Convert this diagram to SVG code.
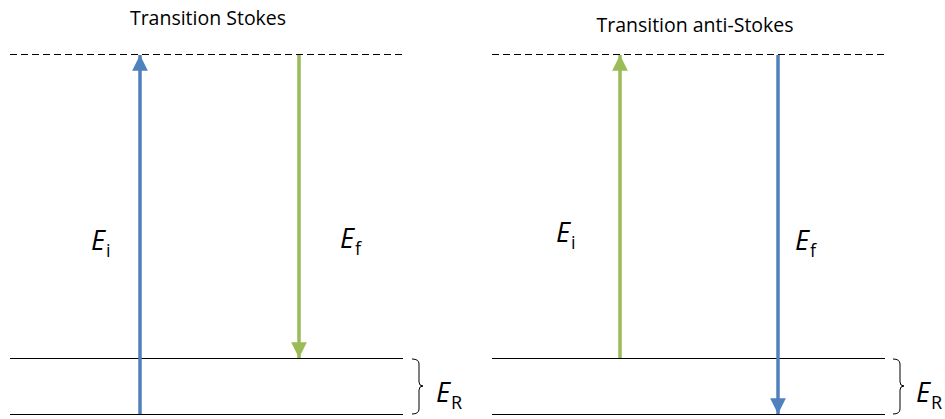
<svg xmlns="http://www.w3.org/2000/svg" width="945" height="419" viewBox="0 0 945 419">
<defs>
<style>
.lvl{stroke:#000;stroke-width:1;fill:none}
.dash{stroke:#000;stroke-width:1;stroke-dasharray:7,4;fill:none}
.blue{stroke:#4F81BD;stroke-width:3.5;fill:none}
.green{stroke:#9BBB59;stroke-width:3.5;fill:none}
.title{font-family:"Open Sans","Liberation Sans",sans-serif;font-size:19.5px;fill:#000}
.lab{font-family:"Open Sans","Liberation Sans",sans-serif;font-size:27px;font-style:italic;fill:#000}
.sub{font-family:"Open Sans","Liberation Sans",sans-serif;font-size:18px;font-style:normal}
.brace{stroke:#000;stroke-width:1;fill:none}
</style>
<marker id="ab" viewBox="0 0 10 10" refX="10" refY="5" markerWidth="4.5" markerHeight="4.5" markerUnits="strokeWidth" orient="auto"><path d="M0,0 L10,5 L0,10 z" fill="#4F81BD"/></marker>
<marker id="ag" viewBox="0 0 10 10" refX="10" refY="5" markerWidth="4.5" markerHeight="4.5" markerUnits="strokeWidth" orient="auto"><path d="M0,0 L10,5 L0,10 z" fill="#9BBB59"/></marker>
</defs>
<g id="titles">
<text class="title" x="208" y="25" text-anchor="middle">Transition Stokes</text>
<text class="title" x="695" y="32" text-anchor="middle">Transition anti-Stokes</text>
</g>
<g id="levels-left">
<line class="dash" x1="10" y1="54.5" x2="403" y2="54.5"/>
<line class="lvl" x1="10" y1="358.5" x2="403" y2="358.5"/>
<line class="lvl" x1="10" y1="414.5" x2="403" y2="414.5"/>
</g>
<g id="levels-right">
<line class="dash" x1="492" y1="54.5" x2="885" y2="54.5"/>
<line class="lvl" x1="492" y1="358.5" x2="885" y2="358.5"/>
<line class="lvl" x1="492" y1="414.5" x2="885" y2="414.5"/>
</g>
<g id="connectors">
<line class="blue" x1="140" y1="414" x2="140" y2="55" marker-end="url(#ab)"/>
<line class="green" x1="299" y1="55" x2="299" y2="358" marker-end="url(#ag)"/>
<line class="green" x1="620" y1="358" x2="620" y2="55" marker-end="url(#ag)"/>
<line class="blue" x1="778" y1="55" x2="778" y2="414" marker-end="url(#ab)"/>
</g>
<g id="brace-left">
<path class="brace" d="M412,359 Q419,359 419,364 L419,382 Q419,386 423,386 Q419,386 419,390 L419,409 Q419,414 412,414"/>
<text class="lab" x="436" y="402">E<tspan class="sub" dx="1" dy="7">R</tspan></text>
</g>
<g id="brace-right">
<path class="brace" d="M893,359 Q900,359 900,364 L900,382 Q900,386 904,386 Q900,386 900,390 L900,409 Q900,414 893,414"/>
<text class="lab" x="916" y="402">E<tspan class="sub" dx="1" dy="7">R</tspan></text>
</g>
<g id="labels">
<text class="lab" x="91" y="250">E<tspan class="sub" dx="1" dy="7">i</tspan></text>
<text class="lab" x="340" y="248">E<tspan class="sub" dx="1" dy="7">f</tspan></text>
<text class="lab" x="556" y="242">E<tspan class="sub" dx="1" dy="7">i</tspan></text>
<text class="lab" x="795" y="250">E<tspan class="sub" dx="1" dy="7">f</tspan></text>
</g>
</svg>
